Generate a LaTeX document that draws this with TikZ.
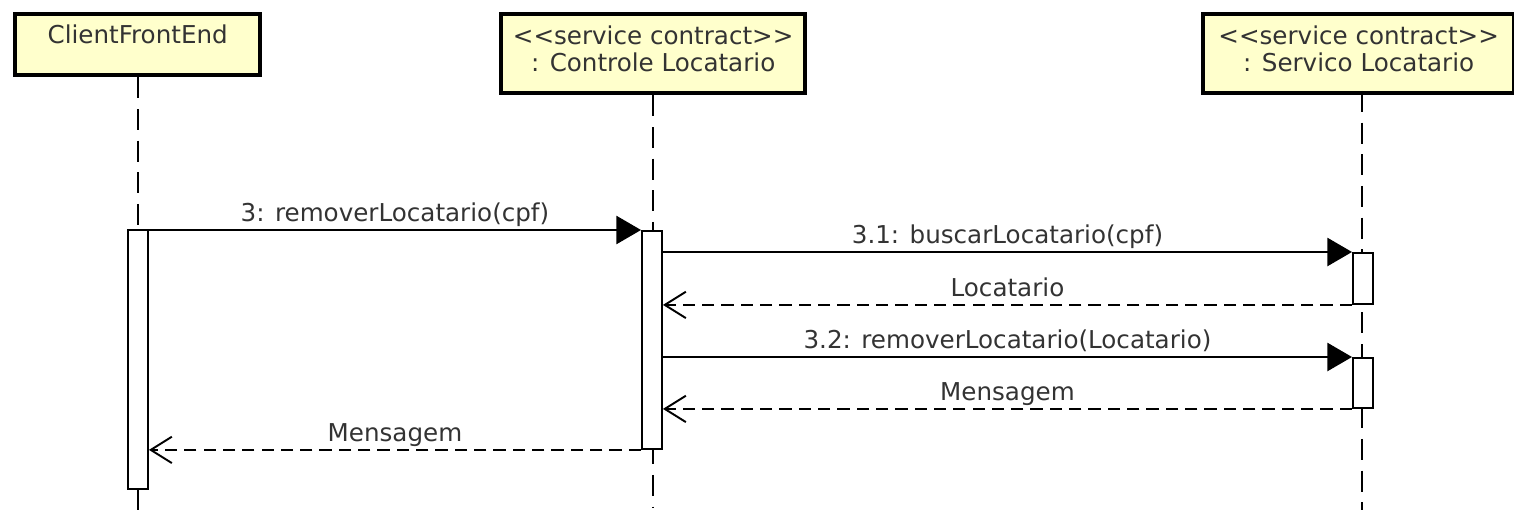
\documentclass[tikz,border=0pt]{standalone}
\usepackage{fontspec}
\setmainfont{DejaVu Sans}
\usetikzlibrary{arrows.meta,positioning}
\definecolor{umlyellow}{RGB}{255,255,204}
\begin{document}
\begin{tikzpicture}[x=0.02cm,y=-0.02cm,
    every node/.append style={align=center,font=\fontsize{14}{15.3}\selectfont,text=black!80},
    obj/.style={draw,line width=2.5pt,fill=umlyellow,inner xsep=0pt,inner ysep=0pt,anchor=north west},
    act/.style={draw,line width=1.1pt,fill=white,inner sep=0pt,minimum width=0.4cm,anchor=north west},
    life/.style={line width=1.1pt,dash pattern=on 12pt off 6pt},
    call/.style={line width=1.1pt,-{Triangle[length=14pt,width=16pt]}},
    reply/.style={line width=1.1pt,dash pattern=on 7pt off 4pt,-{Straight Barb[length=12pt,width=15pt]}},
    msg/.style={above,inner sep=0.8pt,text depth=3.3pt}]
  \useasboundingbox (0,0) rectangle (1514,517);
  % lifeline heads
  \node[obj,minimum width=4.9cm,minimum height=1.22cm,text height=0.58cm,text depth=0.64cm] (cfe) at (13,12) {ClientFrontEnd};
  \node[obj,minimum width=6.08cm,minimum height=1.58cm,text height=1.14cm,text depth=0.44cm] (ctl) at (499,12) {<{}<service contract>{}>\\: Controle Locatario};
  \node[obj,minimum width=6.22cm,minimum height=1.58cm,text height=1.14cm,text depth=0.44cm] (svc) at (1201,12) {<{}<service contract>{}>\\: Servico Locatario};
  % lifelines
  \draw[life] (cfe.south) -- (cfe.south |- 0,517);
  \draw[life] (ctl.south) -- (ctl.south |- 0,508);
  \draw[life] (1362,91) -- (1362,510);
  % activations
  \node[act,minimum height=5.18cm] (ca) at (127,229) {};
  \node[act,minimum height=4.36cm] (ka) at (641,230) {};
  \node[act,minimum height=1.02cm] (sa1) at (1352,252) {};
  \node[act,minimum height=1.0cm] (sa2) at (1352,357) {};
  % messages
  \draw[call] (ca.east |- ka.north) -- node[msg] {3: removerLocatario(cpf)} (ka.north west);
  \draw[call] (ka.east |- sa1.north) -- node[msg] {3.1: buscarLocatario(cpf)} (sa1.north west);
  \draw[reply] (sa1.south west) -- node[msg] {Locatario} (ka.east |- sa1.south);
  \draw[call] (ka.east |- sa2.north) -- node[msg] {3.2: removerLocatario(Locatario)} (sa2.north west);
  \draw[reply] (sa2.south west) -- node[msg] {Mensagem} (ka.east |- sa2.south);
  \draw[reply] (ka.south west) -- node[msg] {Mensagem} (ca.east |- ka.south);
\end{tikzpicture}
\end{document}
